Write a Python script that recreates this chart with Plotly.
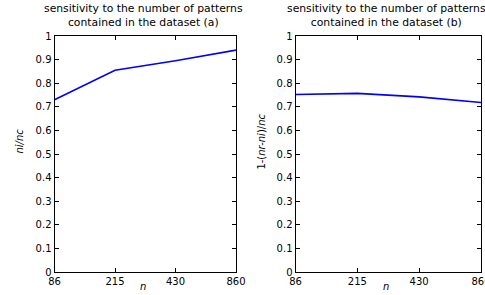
import plotly.graph_objects as go

n_labels = ["86", "215", "430", "860"]
sens_a = [0.73, 0.855, 0.895, 0.94]
sens_b = [0.752, 0.757, 0.742, 0.718]
y_ticks = [0, 0.1, 0.2, 0.3, 0.4, 0.5, 0.6, 0.7, 0.8, 0.9, 1]
titles = ["sensitivity to the number of patterns<br>contained in the dataset (a)",
          "sensitivity to the number of patterns<br>contained in the dataset (b)"]
ylabels = ["<i>ni/nc</i>", "1-(<i>nr-ni</i>)/<i>nc</i>"]

W, H = 485, 295
idx = list(range(len(n_labels)))
FAM = "DejaVu Sans, Verdana, sans-serif"
FONT = dict(family=FAM, size=10, color="black")
TFONT = dict(family=FAM, size=10.8, color="black")

fig = go.Figure()
fig.add_trace(go.Scatter(x=idx, y=sens_a, mode="lines", line=dict(color="#0000ff", width=1.6),
                         xaxis="x", yaxis="y", showlegend=False))
fig.add_trace(go.Scatter(x=idx, y=sens_b, mode="lines", line=dict(color="#0000ff", width=1.6),
                         xaxis="x2", yaxis="y2", showlegend=False))

doms_x = [[54.5 / W, 236 / W], [295.5 / W, 481 / W]]
dom_y = [(H - 272) / H, (H - 36) / H]

axcommon = dict(showgrid=False, zeroline=False, showline=True, linecolor="black", linewidth=1,
                mirror="ticks", ticks="inside", ticklen=4, tickcolor="black", tickfont=FONT,
                automargin=False, ticklabeloverflow="allow")
layout = dict(width=W, height=H, margin=dict(l=0, r=0, t=0, b=0, pad=0),
              paper_bgcolor="white", plot_bgcolor="white", font=FONT)
for i, name in enumerate(["", "2"]):
    layout["xaxis" + name] = dict(domain=doms_x[i], range=[0, 3], tickvals=idx, ticktext=n_labels,
                                  anchor="y" + name, **axcommon)
    layout["yaxis" + name] = dict(domain=dom_y, range=[0, 1], tickvals=y_ticks,
                                  ticktext=[("%g" % v) for v in y_ticks],
                                  anchor="x" + name, **axcommon)
fig.update_layout(**layout)

anns = []
for i in range(2):
    cx = (doms_x[i][0] + doms_x[i][1]) / 2 - 2 / W
    anns.append(dict(text=titles[i], x=cx, y=1 - 0 / H, xref="paper", yref="paper",
                     xanchor="center", yanchor="top", showarrow=False, font=TFONT))
    anns.append(dict(text="<i>n</i>", x=cx, y=1 / H, xref="paper", yref="paper",
                     xanchor="center", yanchor="bottom", showarrow=False, font=FONT))
anns.append(dict(text=ylabels[0], x=20 / W, y=0.52, xref="paper", yref="paper", textangle=-90,
                 xanchor="center", yanchor="middle", showarrow=False, font=FONT))
anns.append(dict(text=ylabels[1], x=262 / W, y=0.52, xref="paper", yref="paper", textangle=-90,
                 xanchor="center", yanchor="middle", showarrow=False, font=FONT))
fig.update_layout(annotations=anns)

fig.write_html("out.html", config={"displayModeBar": False},
               post_script="document.body.style.margin='0';document.body.style.padding='0';"
                           "document.documentElement.style.overflow='hidden';")
